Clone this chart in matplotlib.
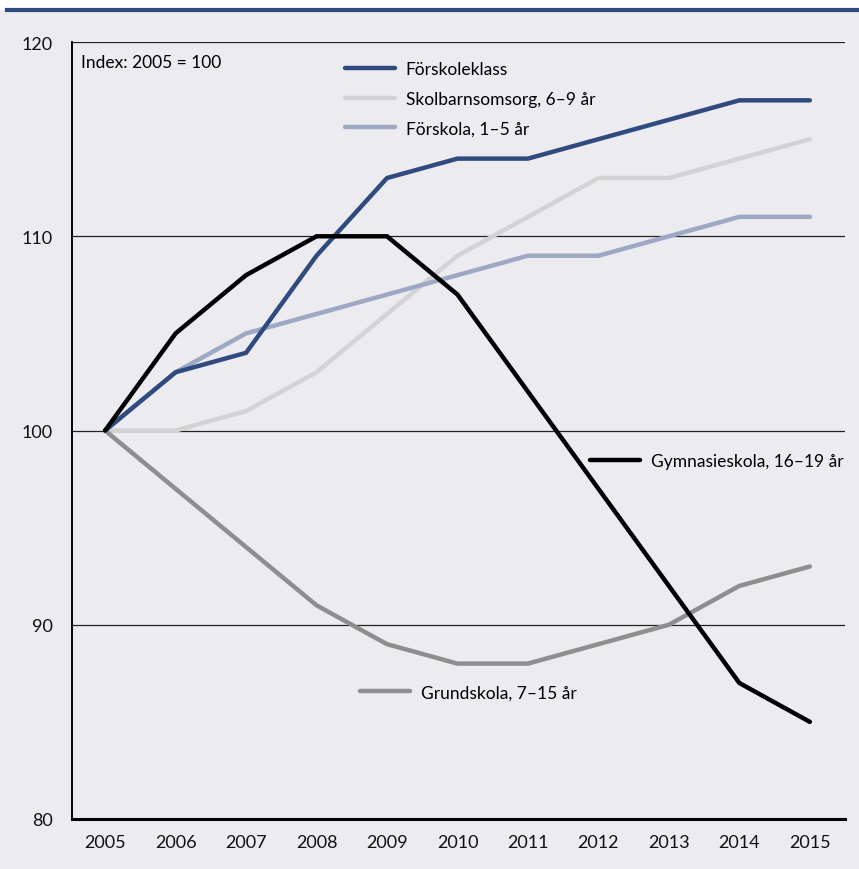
import matplotlib.pyplot as plt
from matplotlib.lines import Line2D
from matplotlib.patches import Rectangle

plt.rcParams['font.family'] = ['Lato', 'DejaVu Sans']

# Data (index, 2005 = 100)
years = [2005, 2006, 2007, 2008, 2009, 2010, 2011, 2012, 2013, 2014, 2015]
forskoleklass = [100, 103, 104, 109, 113, 114, 114, 115, 116, 117, 117]
skolbarnsomsorg = [100, 100, 101, 103, 106, 109, 111, 113, 113, 114, 115]
forskola = [100, 103, 105, 106, 107, 108, 109, 109, 110, 111, 111]
gymnasieskola = [100, 105, 108, 110, 110, 107, 102, 97, 92, 87, 85]
grundskola = [100, 97, 94, 91, 89, 88, 88, 89, 90, 92, 93]
y_ticks = [80, 90, 100, 110, 120]

bg = '#ebebf0'
c_fk = '#2f4a7e'
c_sb = '#d2d3d3'
c_fs = '#9ea8c3'
c_gy = '#000000'
c_gr = '#8e8e8e'

fig = plt.figure(figsize=(8.59, 8.70), dpi=100, facecolor=bg)
ax = fig.add_axes([0.0838, 0.0575, 0.9, 0.893])
ax.set_facecolor(bg)

# white band and dark rule at the top
fig.add_artist(Rectangle((0, 0.9875), 1, 0.0125, facecolor='white', edgecolor='none',
                         transform=fig.transFigure))
fig.add_artist(Line2D([0.008, 1.0], [0.9875, 0.9875], color=c_fk, lw=3, transform=fig.transFigure))

lw = 3.2
ax.plot(years, skolbarnsomsorg, color=c_sb, lw=lw, solid_capstyle='round', zorder=3)
ax.plot(years, forskola, color=c_fs, lw=lw, solid_capstyle='round', zorder=4)
ax.plot(years, grundskola, color=c_gr, lw=lw, solid_capstyle='round', zorder=3)
ax.plot(years, forskoleklass, color=c_fk, lw=lw, solid_capstyle='round', zorder=5)
ax.plot(years, gymnasieskola, color=c_gy, lw=lw, solid_capstyle='round', zorder=6)

ax.set_xlim(2004.53, 2015.5)
ax.set_ylim(80, 120)
ax.set_xticks(years)
ax.set_yticks(y_ticks)
ax.tick_params(length=0, labelsize=13, colors='#111111')
ax.tick_params(axis='y', pad=14)
ax.tick_params(axis='x', pad=11)
for y in y_ticks[1:]:
    ax.axhline(y, color='#222222', lw=0.9, zorder=1)

for s in ['top', 'right']:
    ax.spines[s].set_visible(False)
ax.spines['left'].set_linewidth(1.4)
ax.spines['bottom'].set_linewidth(2.2)

ax.text(0.012, 0.985, 'Index: 2005 = 100', transform=ax.transAxes, fontsize=12.5, va='top', ha='left')

def handle(c):
    return Line2D([], [], color=c, lw=lw, solid_capstyle='round')

leg_kw = dict(frameon=False, fontsize=12.5, handlelength=2.9, handletextpad=0.6, borderpad=0, borderaxespad=0)
leg1 = ax.legend([handle(c_fk), handle(c_sb), handle(c_fs)],
                 ['Förskoleklass', 'Skolbarnsomsorg, 6–9 år', 'Förskola, 1–5 år'],
                 loc='upper left', bbox_to_anchor=(0.353, 0.975), labelspacing=0.78, **leg_kw)
ax.add_artist(leg1)
leg2 = ax.legend([handle(c_gy)], ['Gymnasieskola, 16–19 år'],
                 loc='center left', bbox_to_anchor=(0.67, 0.461), **leg_kw)
ax.add_artist(leg2)
ax.legend([handle(c_gr)], ['Grundskola, 7–15 år'],
          loc='center left', bbox_to_anchor=(0.3726, 0.163), **leg_kw)

fig.savefig('out.png', dpi=100, facecolor=bg)
